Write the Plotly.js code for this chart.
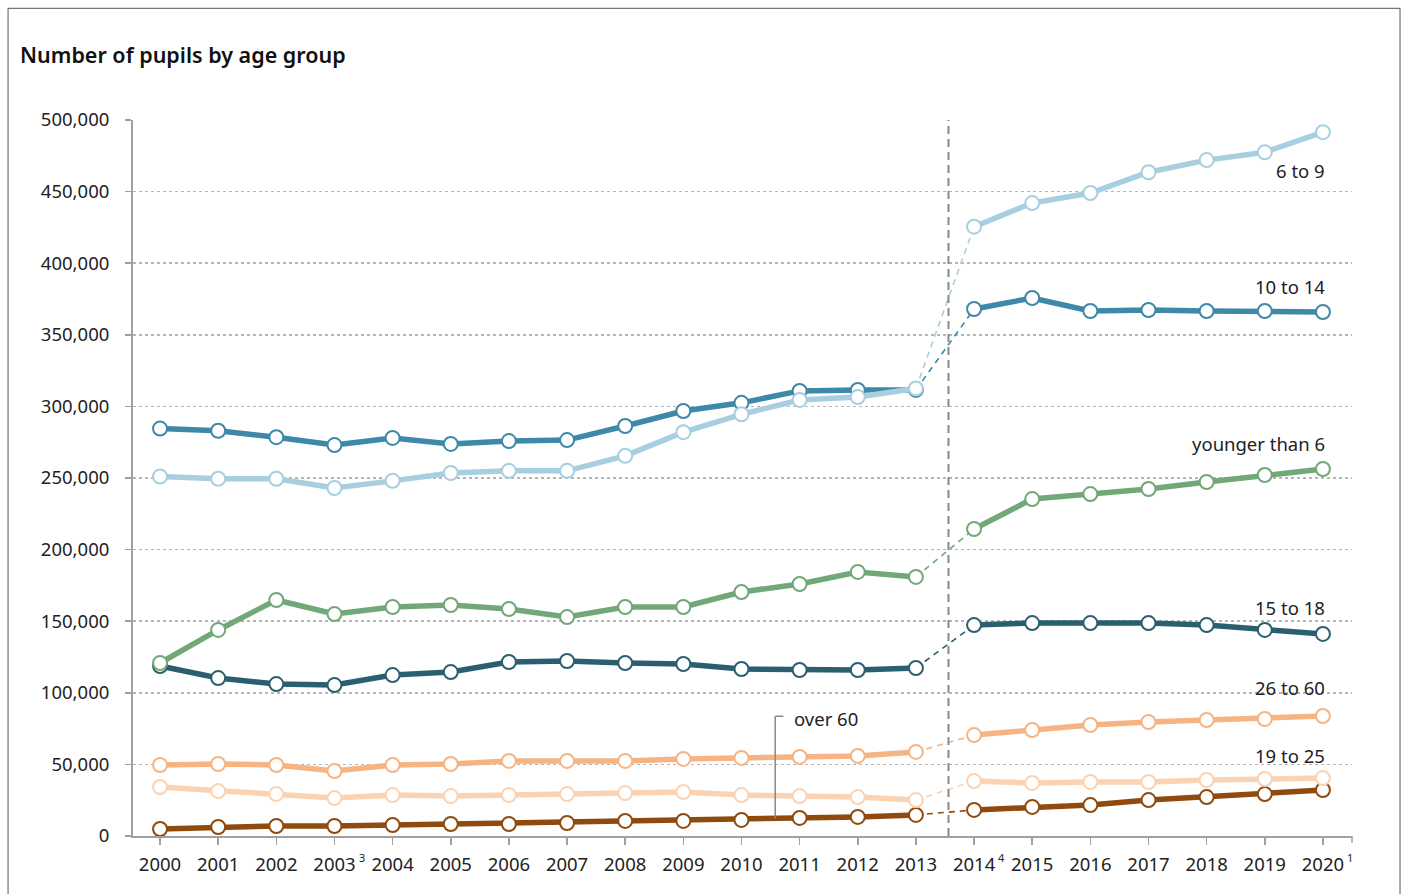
<!DOCTYPE html>
<html>
<head>
<meta charset="utf-8">
<script src="https://cdn.plot.ly/plotly-3.0.1.min.js"></script>
<style>
html,body{margin:0;padding:0;background:#fff;}
#chart{width:1408px;height:894px;}
</style>
</head>
<body>
<div id="chart"></div>
<script>
const years = ['2000','2001','2002','2003','2004','2005','2006','2007','2008','2009','2010','2011','2012','2013','2014','2015','2016','2017','2018','2019','2020'];
const footnotes = {'2003':'3','2014':'4','2020':'1'};

const age6to9 = [251000,249500,249500,243000,248000,253500,255000,255000,265500,282000,294500,304500,306500,312500,425500,442000,449000,463500,472000,477500,491500];
const age10to14 = [284500,283000,278500,273000,278000,273800,275800,276500,286300,296800,302500,310800,311500,311500,368000,375700,366600,367300,366600,366600,365900];
const ageUnder6 = [120800,143900,164800,155000,159900,161300,158500,152900,159900,159900,170400,176000,184400,180900,214400,235300,238800,242300,247200,252100,256300];
const age15to18 = [118700,110300,106100,105400,112400,114500,121500,122200,120800,120100,116600,115900,115900,117300,147300,148700,148700,148700,147300,143900,141100];
const age26to60 = [49600,50300,49600,45400,49600,50300,52400,52400,52400,53800,54500,55200,55900,58700,70500,74000,77500,79600,81000,81700,83800];
const age19to25 = [34200,31400,29300,26500,28600,27900,28600,29300,30000,30700,28600,27900,27200,25100,38400,37000,37700,37700,39100,39800,40500];
const ageOver60 = [4900,6300,7000,7000,7700,8400,8400,9100,10500,10500,11200,12600,13300,14700,18200,20300,21600,25100,27200,29300,32100];

const seriesNames = ['over 60','19 to 25','26 to 60','15 to 18','younger than 6','10 to 14','6 to 9'];
const seriesValues = [ageOver60, age19to25, age26to60, age15to18, ageUnder6, age10to14, age6to9];
const seriesColors = ['#8f4a0e','#fbd3b2','#f6b483','#2a5f70','#72a877','#3e88a8','#a7cfe0'];

const breakIdx = 13; // series break between 2013 and 2014

const traces = [];
const xIdx = years.map((_, i) => i);
seriesValues.forEach((vals, s) => {
  const col = seriesColors[s];
  traces.push({
    x: [xIdx[breakIdx], xIdx[breakIdx + 1]],
    y: [vals[breakIdx], vals[breakIdx + 1]],
    mode: 'lines', type: 'scatter', hoverinfo: 'skip', showlegend: false,
    line: {color: col, width: 1.6, dash: '6px,5px'}
  });
});
seriesValues.forEach((vals, s) => {
  const col = seriesColors[s];
  const xs = [], ys = [];
  vals.forEach((v, i) => {
    xs.push(xIdx[i]); ys.push(v);
    if (i === breakIdx) { xs.push(breakIdx + 0.5); ys.push(null); }
  });
  traces.push({
    x: xs, y: ys, name: seriesNames[s],
    mode: 'lines+markers', type: 'scatter', connectgaps: false, showlegend: false,
    line: {color: col, width: 5.5},
    marker: {symbol: 'circle', size: 14, color: '#ffffff', line: {color: col, width: 2}}
  });
});

const labelFont = {family: 'Noto Sans, sans-serif', size: 18.5, color: '#222'};
const labels = [
  {text: '6 to 9', y: 464400},
  {text: '10 to 14', y: 383400},
  {text: 'younger than 6', y: 274400},
  {text: '15 to 18', y: 159900},
  {text: '26 to 60', y: 103400},
  {text: '19 to 25', y: 55900}
];
const annotations = labels.map(l => ({
  x: 20.07, y: l.y, xref: 'x', yref: 'y', text: l.text, showarrow: false,
  xanchor: 'right', yanchor: 'middle', font: labelFont
}));
annotations.push({
  x: 10.87, y: 82400, xref: 'x', yref: 'y', text: 'over 60', showarrow: false,
  xanchor: 'left', yanchor: 'middle', font: labelFont
});
Object.keys(footnotes).forEach(yr => {
  annotations.push({
    x: years.indexOf(yr) + 0.385, y: -0.03, xref: 'x', yref: 'paper',
    text: footnotes[yr], showarrow: false, xanchor: 'left', yanchor: 'middle',
    font: {family: 'Noto Sans, sans-serif', size: 11, color: '#222'}
  });
});

const shapes = [
  {type: 'rect', xref: 'paper', yref: 'paper', x0: -0.1025, x1: 1.0394, y0: -0.12, y1: 1.156,
   line: {color: '#555', width: 1}, fillcolor: 'rgba(0,0,0,0)', layer: 'below'},
  {type: 'line', xref: 'x', yref: 'paper', x0: 13.56, x1: 13.56, y0: 0, y1: 1.0,
   line: {color: '#8a8a8a', width: 2, dash: '8px,5px'}},
  {type: 'line', xref: 'x', yref: 'y', x0: 10.58, x1: 10.58, y0: 12300, y1: 83600,
   line: {color: '#888', width: 1.5}},
  {type: 'line', xref: 'x', yref: 'y', x0: 10.58, x1: 10.72, y0: 83600, y1: 83600,
   line: {color: '#888', width: 1.5}},
  {type: 'line', xref: 'paper', yref: 'paper', x0: 1, x1: 1, y0: 0, y1: -7/716,
   line: {color: '#a0a0a0', width: 1.5}}
];

const layout = {
  width: 1408, height: 894,
  margin: {l: 133, r: 56, t: 120, b: 58},
  paper_bgcolor: '#fff', plot_bgcolor: '#fff',
  font: {family: 'Noto Sans, sans-serif', size: 18, color: '#222'},
  title: {text: 'Number of pupils by age group', x: 20/1408, xref: 'container', xanchor: 'left',
          y: 1 - 55/894, yref: 'container', yanchor: 'middle',
          font: {family: 'Noto Sans, sans-serif', size: 21.5, color: '#111', weight: 600}},
  xaxis: {
    range: [-0.465, 20.5], tickvals: xIdx, ticktext: years,
    showgrid: false, zeroline: false, showline: true, linecolor: '#a0a0a0', linewidth: 2,
    ticks: 'outside', ticklen: 7, tickcolor: '#a0a0a0', tickwidth: 1.5,
    ticklabelstandoff: 4,
    tickfont: {size: 18.5, color: '#222'}
  },
  yaxis: {
    range: [0, 500000], tickvals: [0,50000,100000,150000,200000,250000,300000,350000,400000,450000,500000],
    tickformat: ',d', showline: true, linecolor: '#a0a0a0', linewidth: 2,
    ticks: 'outside', ticklen: 6, tickcolor: '#a0a0a0', tickwidth: 1.5,
    ticklabelstandoff: 12,
    showgrid: true, gridcolor: '#b5b5b5', gridwidth: 1.5, griddash: 'dot', zeroline: false,
    tickfont: {size: 18.5, color: '#222'}
  },
  annotations: annotations,
  shapes: shapes,
  showlegend: false
};

Plotly.newPlot('chart', traces, layout, {displayModeBar: false, staticPlot: true});
</script>
</body>
</html>
